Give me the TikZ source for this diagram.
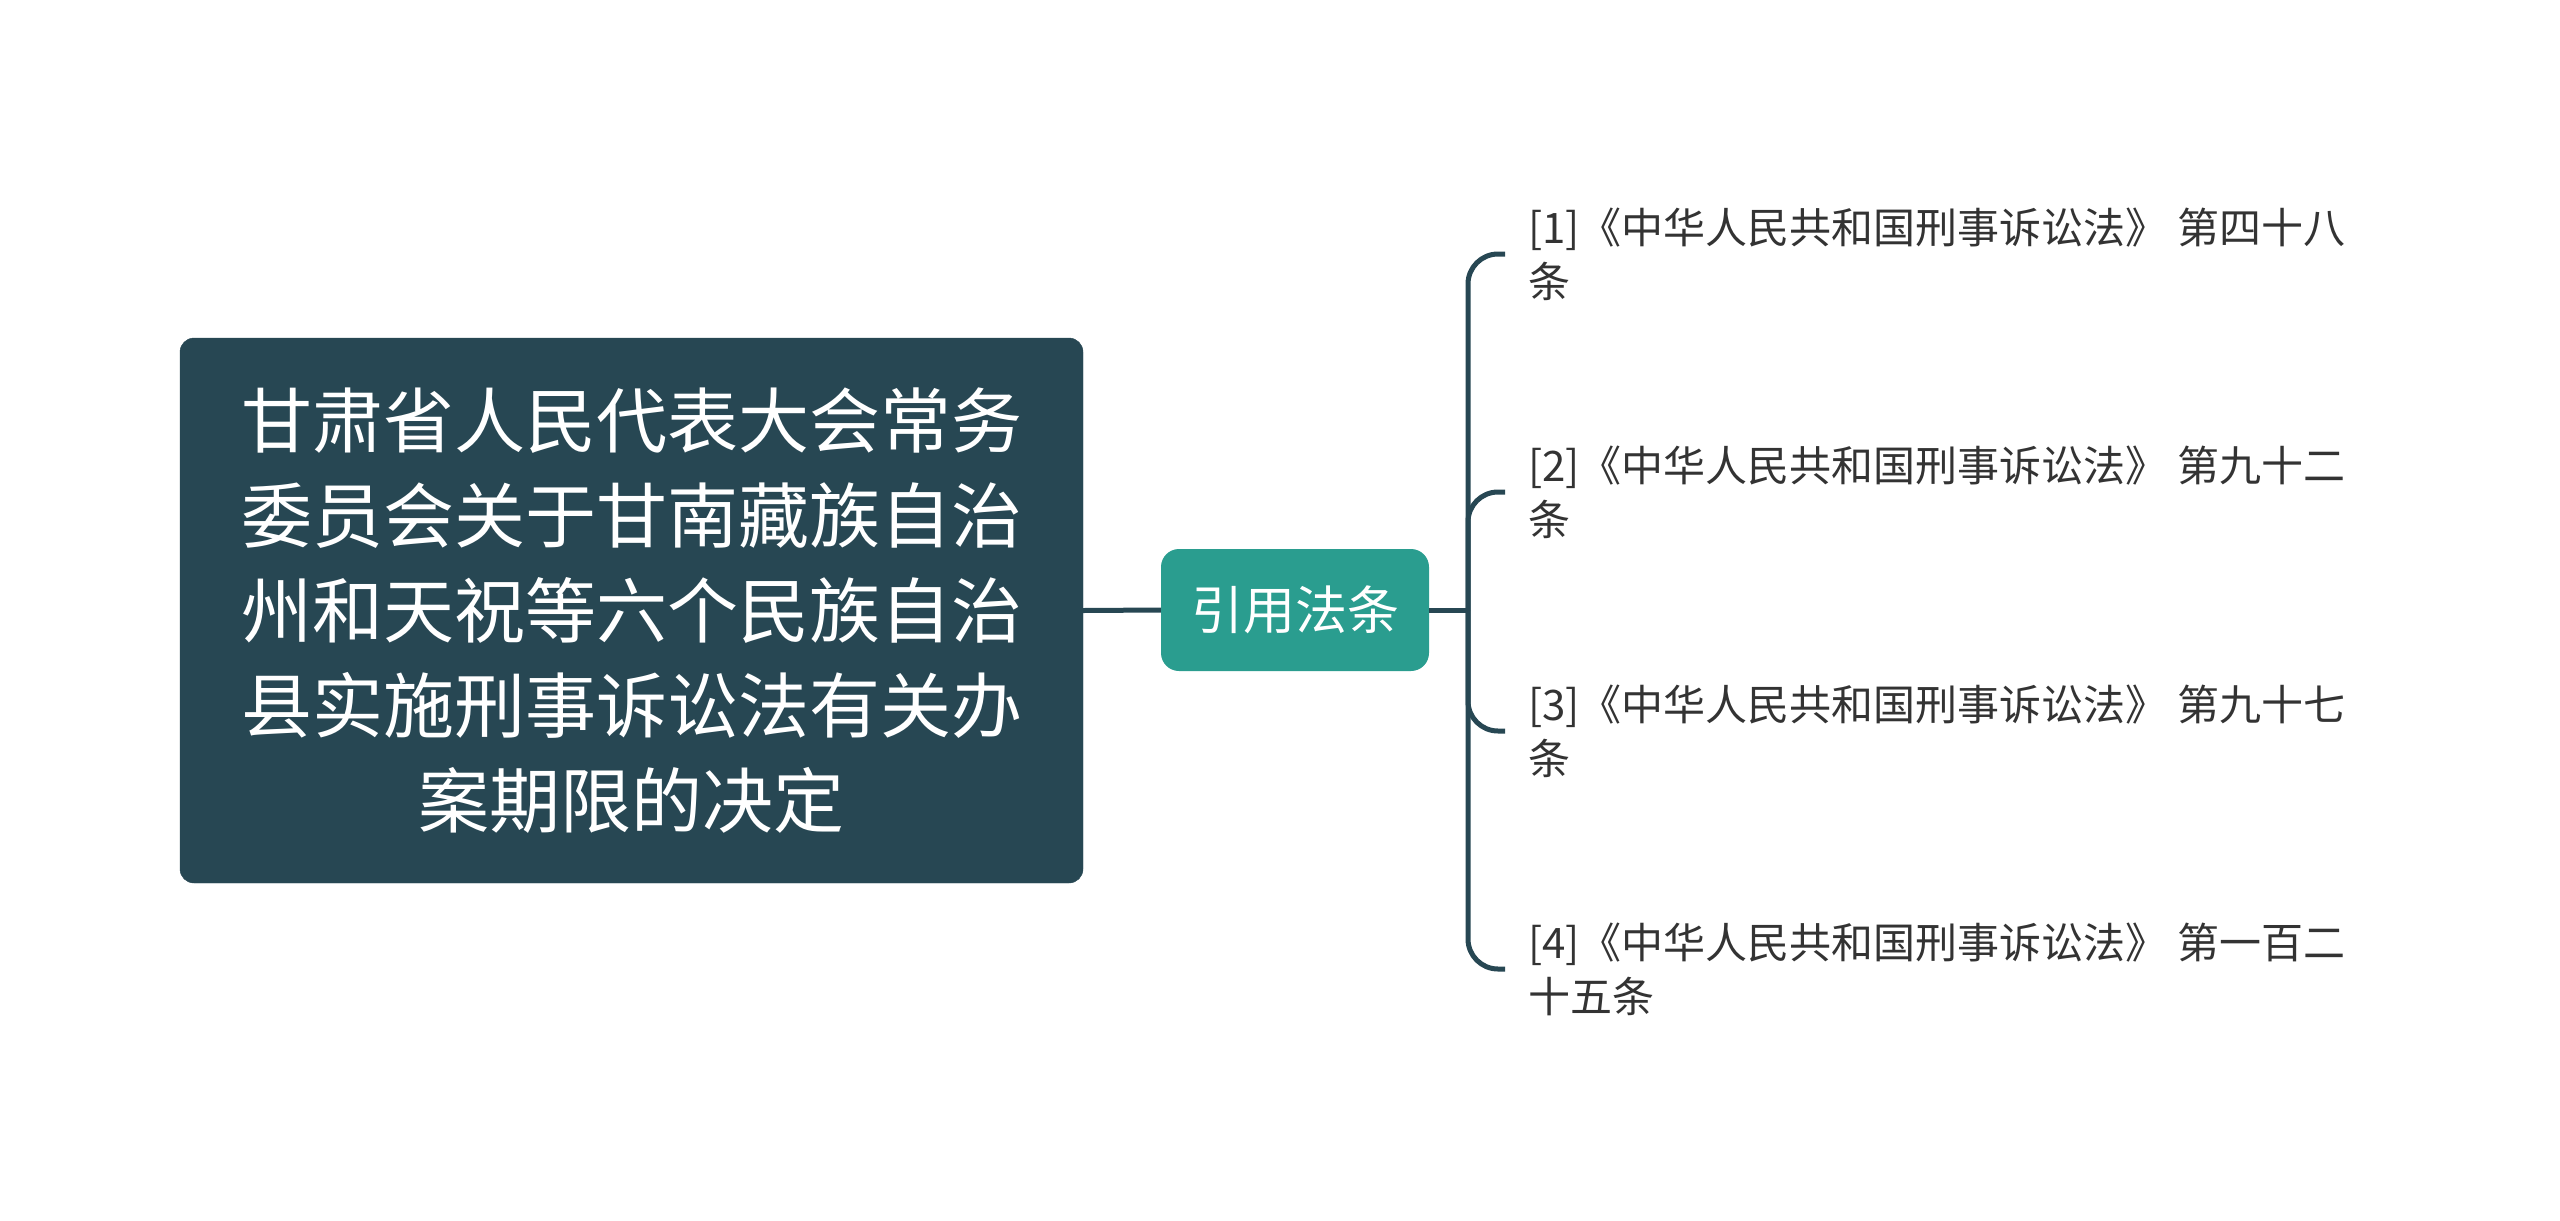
\documentclass[tikz,border=0pt]{standalone}
\usepackage{fontspec}
\setmainfont{Noto Sans CJK SC}
\definecolor{darkslate}{HTML}{274753}
\definecolor{tealc}{HTML}{2A9D8F}
\definecolor{leaftext}{HTML}{333333}
\begin{document}
\begin{tikzpicture}[x=1pt,y=-1pt,
  rootbox/.style={fill=darkslate, draw=darkslate, rounded corners=14pt, minimum width=903pt, minimum height=545pt, text=white, align=center, font=\fontsize{71}{95}\selectfont, inner sep=0pt},
  midbox/.style={fill=tealc, rounded corners=18pt, minimum width=268pt, minimum height=122pt, text=white, font=\fontsize{52}{60}\selectfont, inner sep=0pt},
  leafbox/.style={anchor=west, align=left, text=leaftext, font=\fontsize{42}{54}\selectfont, inner xsep=23pt, inner ysep=0pt},
  conn/.style={draw=darkslate, line width=5pt}
]
\useasboundingbox (0,0) rectangle (2560,1221);
\node[rootbox] (root) at (631.5,610.5) {甘肃省人民代表大会常务\\委员会关于甘南藏族自治\\州和天祝等六个民族自治\\县实施刑事诉讼法有关办\\案期限的决定};
\node[midbox] (mid) at (1295,610) {引用法条};
\coordinate (j) at (1468,610);
\node[leafbox] (l1) at (1505,254) {[1]《中华人民共和国刑事诉讼法》 第四十八\\条};
\node[leafbox] (l2) at (1505,492) {[2]《中华人民共和国刑事诉讼法》 第九十二\\条};
\node[leafbox] (l3) at (1505,731) {[3]《中华人民共和国刑事诉讼法》 第九十七\\条};
\node[leafbox] (l4) at (1505,969) {[4]《中华人民共和国刑事诉讼法》 第一百二\\十五条};
\draw[conn] (root.east) -- (mid.west);
\draw[conn] (mid.east) -- (j);
\foreach \l in {l1,l2,l3,l4}{
  \draw[conn, rounded corners=30pt] (j) |- (\l.west);
}
\end{tikzpicture}
\end{document}
